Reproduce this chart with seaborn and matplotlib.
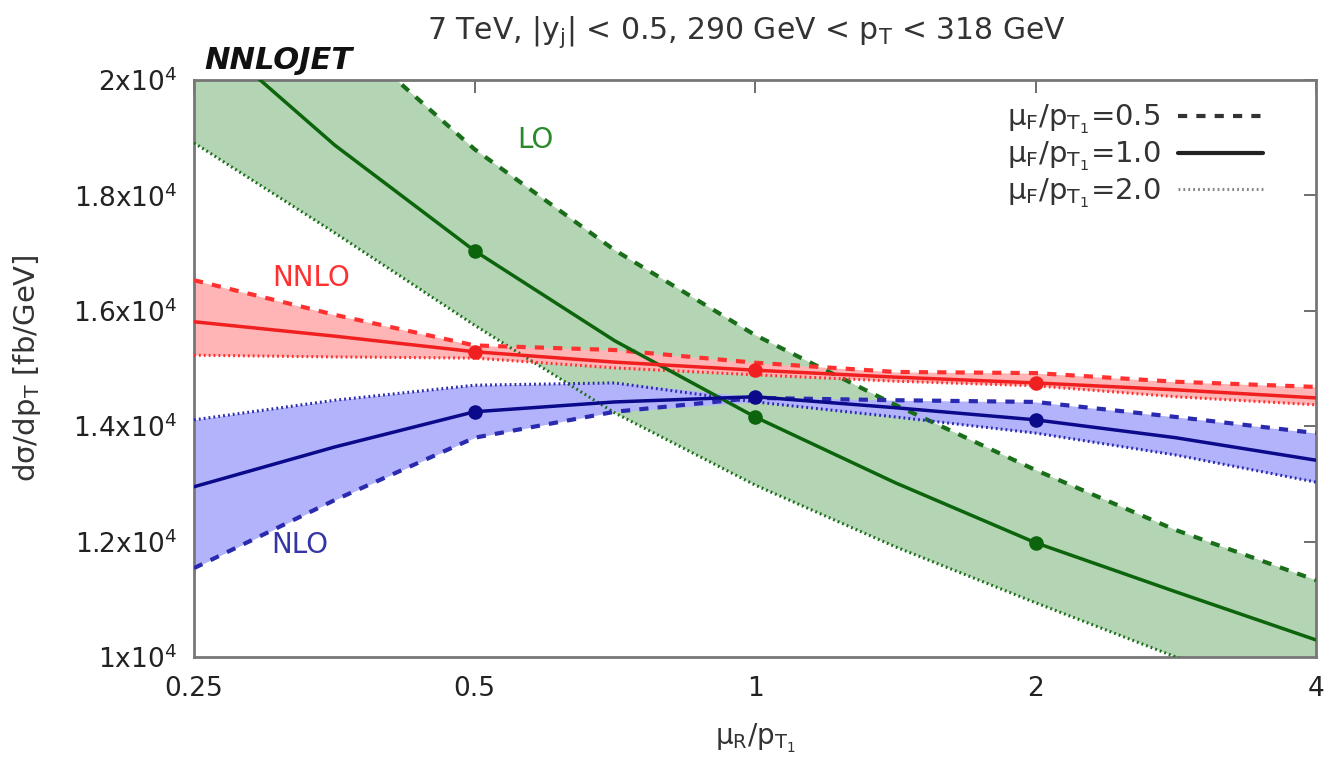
import numpy as np
import pandas as pd
import matplotlib
matplotlib.use("Agg")
import matplotlib.pyplot as plt
from matplotlib.lines import Line2D
import seaborn as sns

# ---------------- data ----------------
mu_r = [0.25, 0.354, 0.5, 0.707, 1.0, 1.414, 2.0, 2.828, 4.0]

lo_f05 = [23200, 20950, 18800, 17050, 15580, 14370, 13240, 12200, 11330]
lo_f10 = [21000, 18870, 17040, 15480, 14160, 13020, 11980, 11130, 10295]
lo_f20 = [18910, 17350, 15750, 14230, 12980, 11910, 10940, 10000, 9080]

nlo_f05 = [11540, 12720, 13800, 14250, 14490, 14450, 14420, 14160, 13880]
nlo_f10 = [12950, 13640, 14250, 14420, 14510, 14320, 14110, 13800, 13410]
nlo_f20 = [14110, 14450, 14710, 14750, 14420, 14160, 13880, 13500, 13030]

nnlo_f05 = [16530, 15930, 15400, 15320, 15100, 14940, 14920, 14770, 14680]
nnlo_f10 = [15810, 15560, 15290, 15110, 14970, 14850, 14750, 14630, 14490]
nnlo_f20 = [15230, 15200, 15180, 15010, 14890, 14780, 14700, 14510, 14370]

point_mu = [0.5, 1.0, 2.0]

x_ticks = [0.25, 0.5, 1, 2, 4]
x_ticklabels = ["0.25", "0.5", "1", "2", "4"]
y_ticks = [10000, 12000, 14000, 16000, 18000, 20000]
y_ticklabels = [r"1x10$^{4}$", r"1.2x10$^{4}$", r"1.4x10$^{4}$",
                r"1.6x10$^{4}$", r"1.8x10$^{4}$", r"2x10$^{4}$"]

# ---------------- style ----------------
sns.set_theme(style="white")
plt.rcParams["font.family"] = ["DejaVu Sans"]
plt.rcParams["mathtext.default"] = "regular"

fig = plt.figure(figsize=(13.28, 7.72), dpi=100)
ax = fig.add_axes([0.1461, 0.149, 0.8449, 0.7474])

orders = [
    ("LO", lo_f05, lo_f10, lo_f20, "#b3d5b3", "#1a6e1a", "#0c640c"),
    ("NLO", nlo_f05, nlo_f10, nlo_f20, "#b3b3fb", "#2a2ab0", "#0a0a8a"),
    ("NNLO", nnlo_f05, nnlo_f10, nnlo_f20, "#ffb5b5", "#ff3030", "#f02020"),
]

# bands
for name, f05, f10, f20, fill_c, edge_c, line_c in orders:
    arr = np.array([f05, f10, f20], dtype=float)
    ax.fill_between(mu_r, arr.min(axis=0), arr.max(axis=0), color=fill_c,
                    linewidth=0, zorder=1)

# lines
for name, f05, f10, f20, fill_c, edge_c, line_c in orders:
    df = pd.DataFrame({"mu": mu_r, "f05": f05, "f10": f10, "f20": f20})
    sns.lineplot(data=df, x="mu", y="f05", ax=ax, color=edge_c, lw=3,
                 linestyle=(0, (2.2, 2.2)), zorder=3)
    sns.lineplot(data=df, x="mu", y="f20", ax=ax, color=edge_c, lw=2.2,
                 linestyle=(0, (0.6, 1.0)), zorder=3)
    sns.lineplot(data=df, x="mu", y="f10", ax=ax, color=line_c, lw=2.5,
                 zorder=4)
    pts = df[df["mu"].isin(point_mu)]
    sns.scatterplot(data=pts, x="mu", y="f10", ax=ax, color=line_c, s=110,
                    edgecolor=line_c, linewidth=0, zorder=5)

# axes
ax.set_xscale("log", base=2)
ax.set_xlim(0.25, 4)
ax.set_ylim(10000, 20000)
ax.set_xticks(x_ticks)
ax.set_xticklabels(x_ticklabels)
ax.xaxis.set_minor_locator(matplotlib.ticker.NullLocator())
ax.set_yticks(y_ticks)
ax.set_yticklabels(y_ticklabels)
ax.tick_params(axis="both", which="major", direction="in", length=9, width=1.2,
               color="#555555", labelsize=19, top=True, right=True,
               labelcolor="#222222", pad=12)
ax.tick_params(axis="x", pad=14)
for sp in ax.spines.values():
    sp.set_color("#777777")
    sp.set_linewidth(2)
ax.set_xlabel(r"$\mu_R/p_{T_1}$", fontsize=20, color="#333333", labelpad=14)
ax.set_ylabel(r"d$\sigma$/dp$_T$ [fb/GeV]", fontsize=21, color="#333333",
              labelpad=22)

# text labels
ax.text(0.304, 0.896, "LO", transform=ax.transAxes, color="#2a8a2a",
        fontsize=20, ha="center", va="center")
ax.text(0.104, 0.657, "NNLO", transform=ax.transAxes, color="#ff3030",
        fontsize=20, ha="center", va="center")
ax.text(0.0945, 0.194, "NLO", transform=ax.transAxes, color="#3535a5",
        fontsize=20, ha="center", va="center")

fig.text(0.562, 0.958, r"7 TeV, |y$_j$| < 0.5, 290 GeV < p$_T$ < 318 GeV",
         fontsize=21.5, ha="center", va="center", color="#333333")
fig.text(0.154, 0.921, "NNLOJET", fontsize=22, fontweight="bold",
         fontstyle="italic", ha="left", va="center", color="#111111")

# legend
handles = [
    Line2D([], [], color="#333333", lw=3, linestyle=(0, (2.2, 2.2))),
    Line2D([], [], color="#222222", lw=3),
    Line2D([], [], color="#888888", lw=2.2, linestyle=(0, (0.6, 1.0))),
]
labels = [r"$\mu_F/p_{T_1}$=0.5", r"$\mu_F/p_{T_1}$=1.0", r"$\mu_F/p_{T_1}$=2.0"]
leg = ax.legend(handles, labels, loc="upper right", bbox_to_anchor=(0.968, 0.99),
                frameon=False, markerfirst=False, fontsize=21, handlelength=2.9,
                handletextpad=0.6, labelspacing=0.12, borderaxespad=0.2)
for t in leg.get_texts():
    t.set_color("#333333")

fig.savefig("out.png", dpi=100)
